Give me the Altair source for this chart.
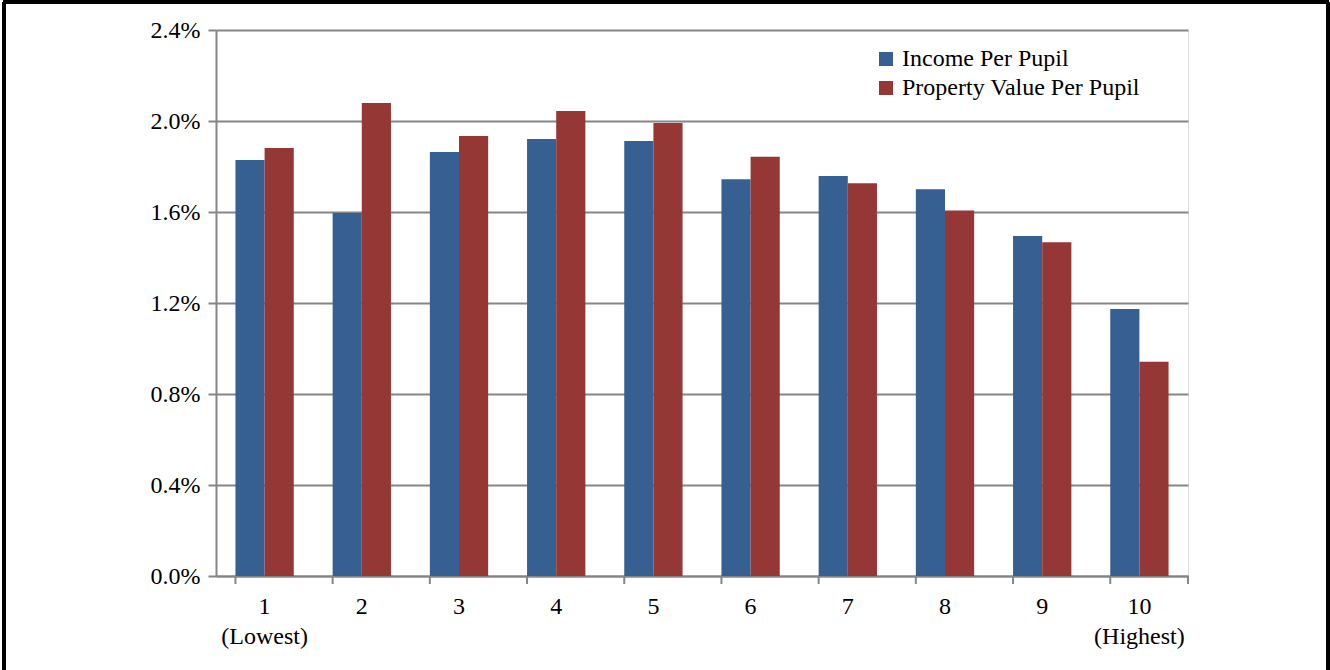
import altair as alt
import pandas as pd

deciles = ["1", "2", "3", "4", "5", "6", "7", "8", "9", "10"]
series = ["Income Per Pupil", "Property Value Per Pupil"]
income = [1.829, 1.596, 1.864, 1.921, 1.912, 1.744, 1.758, 1.700, 1.495, 1.174]
property_value = [1.881, 2.079, 1.934, 2.044, 1.991, 1.843, 1.726, 1.607, 1.467, 0.942]
y_ticks = [0, 0.004, 0.008, 0.012, 0.016, 0.020, 0.024]
colors = ["#376092", "#953735"]

rows = []
for d, a, b in zip(deciles, income, property_value):
    rows.append({"decile": d, "series": series[0], "value": a / 100})
    rows.append({"decile": d, "series": series[1], "value": b / 100})
df = pd.DataFrame(rows)

W, H = 972, 546
FONT = "Liberation Serif"
GRID = "#868686"

label_expr = ("datum.value == '1' ? ['1', '(Lowest)'] : "
              "datum.value == '10' ? ['10', '(Highest)'] : datum.value")

bars = alt.Chart(df).mark_bar().encode(
    x=alt.X("decile:N", sort=deciles,
            scale=alt.Scale(paddingInner=0.4, paddingOuter=0.2),
            axis=alt.Axis(title=None, labelAngle=0, ticks=False,
                          domainColor=GRID, domainWidth=2,
                          labelFont=FONT, labelFontSize=24, labelColor="black",
                          labelPadding=18, labelBaseline="top",
                          labelLineHeight=30, labelExpr=label_expr)),
    xOffset=alt.XOffset("series:N", sort=series),
    y=alt.Y("value:Q", scale=alt.Scale(domain=[0, 0.024], nice=False),
            axis=alt.Axis(title=None, format=".1%", values=y_ticks,
                          grid=True, gridColor=GRID, gridWidth=2,
                          domainColor=GRID, domainWidth=2,
                          tickColor=GRID, tickWidth=2, tickSize=8,
                          labelFont=FONT, labelFontSize=24, labelColor="black",
                          labelPadding=8)),
    color=alt.Color("series:N",
                    scale=alt.Scale(domain=series, range=colors),
                    legend=alt.Legend(title=None, orient="none",
                                      legendX=658, legendY=17,
                                      symbolType="square", symbolSize=196,
                                      symbolStrokeWidth=0, symbolOpacity=1,
                                      labelFont=FONT, labelFontSize=24,
                                      labelColor="black", labelOffset=4,
                                      rowPadding=5, labelLimit=400)),
)

tick_df = pd.DataFrame({"decile": deciles})
ticks = alt.Chart(tick_df).mark_rule(color=GRID, strokeWidth=2).encode(
    x=alt.X("decile:N", sort=deciles, bandPosition=0),
    y=alt.value(H), y2=alt.value(H + 8),
)
last_tick = alt.Chart(tick_df).mark_rule(color=GRID, strokeWidth=2).encode(
    x=alt.value(W), y=alt.value(H), y2=alt.value(H + 8),
)

border_top = alt.Chart(tick_df).mark_rule(color="black", strokeWidth=3).encode(
    x=alt.value(-213), x2=alt.value(1113), y=alt.value(-28))
border_left = alt.Chart(tick_df).mark_rule(color="black", strokeWidth=3).encode(
    x=alt.value(-212), y=alt.value(-28), y2=alt.value(H + 94))
border_right = alt.Chart(tick_df).mark_rule(color="black", strokeWidth=3).encode(
    x=alt.value(1112), y=alt.value(-28), y2=alt.value(H + 94))

chart = alt.layer(bars, ticks, last_tick, border_top, border_left, border_right).properties(
    width=W, height=H,
    autosize=alt.AutoSizeParams(type="none"),
    padding={"left": 216, "top": 30, "right": 142, "bottom": 94},
).configure_view(stroke=None).configure(background="white")

chart.save("out.html", embed_options={"renderer": "svg", "actions": False})
